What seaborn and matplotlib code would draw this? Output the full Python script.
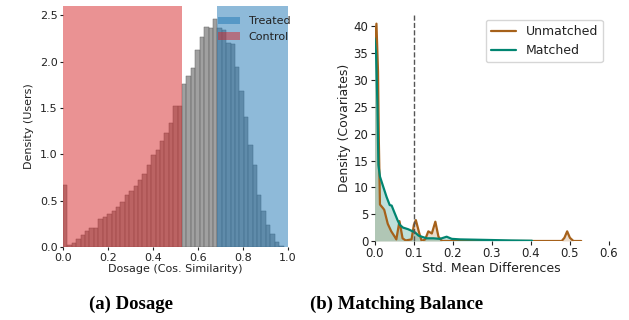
import numpy as np
import pandas as pd
import matplotlib
matplotlib.use("Agg")
import matplotlib.pyplot as plt
import seaborn as sns

# (a) dosage histogram: density per bin, 50 bins over [0, 0.98]
dosage_max = 0.98
dosage_density = [0.67, 0.025, 0.046, 0.09, 0.13, 0.17, 0.21, 0.205, 0.30, 0.32,
                  0.355, 0.39, 0.43, 0.485, 0.56, 0.60, 0.66, 0.72, 0.79, 0.89,
                  0.99, 1.045, 1.14, 1.23, 1.34, 1.52, 1.52, 1.756, 1.85, 1.93,
                  2.12, 2.27, 2.37, 2.36, 2.46, 2.36, 2.34, 2.20, 2.19, 1.94,
                  1.68, 1.40, 1.10, 0.88, 0.56, 0.39, 0.24, 0.14, 0.055, 0.015]
control_range = (0.0, 0.529)
treated_range = (0.686, 1.0)

# (b) matching balance curves
unmatched_x = [0.0, 0.005, 0.009, 0.011, 0.014, 0.022, 0.025, 0.034, 0.043, 0.051,
               0.056, 0.064, 0.072, 0.080, 0.095, 0.101, 0.106, 0.115, 0.121, 0.130,
               0.138, 0.147, 0.156, 0.164, 0.173, 0.480, 0.487, 0.494, 0.501, 0.510,
               0.530]
unmatched_y = [36.0, 40.5, 31.6, 19.2, 6.8, 6.1, 5.8, 3.2, 1.8, 0.9,
               0.3, 3.7, 0.5, 0.1, 0.3, 3.0, 3.9, 1.4, 0.0, 0.3,
               1.8, 1.4, 3.6, 0.8, 0.0, 0.0, 0.6, 1.8, 0.6, 0.0,
               0.0]
matched_x = [0.0, 0.004, 0.0075, 0.010, 0.014, 0.022, 0.031, 0.039, 0.044, 0.050,
             0.059, 0.065, 0.073, 0.086, 0.095, 0.104, 0.113, 0.121, 0.134, 0.151,
             0.168, 0.185, 0.198, 0.219, 0.287, 0.350, 0.404]
matched_y = [37.8, 35.0, 25.3, 14.2, 12.0, 10.2, 8.2, 6.7, 6.6, 5.5,
             3.9, 3.0, 2.5, 2.2, 1.9, 1.6, 1.0, 0.8, 0.5, 0.5,
             0.4, 0.8, 0.4, 0.3, 0.2, 0.1, 0.05]
threshold = 0.1

sns.set_style("ticks")
plt.rcParams["font.family"] = ["DejaVu Sans"]
plt.rcParams["text.color"] = "#222222"
plt.rcParams["axes.labelcolor"] = "#222222"

fig = plt.figure(figsize=(6.29, 3.20), dpi=100)

# ---- left panel
ax1 = fig.add_axes([63 / 629, 73 / 320, 225 / 629, 241 / 320])
edges = np.linspace(0, dosage_max, len(dosage_density) + 1)
hist_df = pd.DataFrame({"dosage": (edges[:-1] + edges[1:]) / 2,
                        "density": dosage_density})
sns.histplot(data=hist_df, x="dosage", weights="density", bins=list(edges),
             color="gray", alpha=0.75, edgecolor="#666666", linewidth=0.35, ax=ax1)
ax1.axvspan(*treated_range, color="tab:blue", alpha=0.5, lw=0, label="Treated")
ax1.axvspan(*control_range, color="tab:red", alpha=0.5, lw=0, label="Control")
ax1.set_xlim(0, 1)
ax1.set_ylim(0, 2.6)
ax1.set_xticks(np.arange(0, 1.01, 0.2))
ax1.set_yticks(np.arange(0, 2.51, 0.5))
ax1.set_xlabel("Dosage (Cos. Similarity)", fontsize=8, labelpad=1)
ax1.set_ylabel("Density (Users)", fontsize=8, labelpad=4)
ax1.tick_params(labelsize=8, length=2.5, width=0.8, pad=1.5, colors="#222222")
ax1.legend(loc="upper right", bbox_to_anchor=(1.03, 0.975), borderaxespad=0,
           fontsize=8, frameon=False)

# ---- right panel
ax2 = fig.add_axes([374.5 / 629, 79 / 320, 234 / 629, 227 / 320])
brown, teal = "#a6611a", "#018571"
sns.lineplot(x=unmatched_x, y=unmatched_y, color=brown, lw=1.6,
             label="Unmatched", ax=ax2)
sns.lineplot(x=matched_x, y=matched_y, color=teal, lw=1.6,
             label="Matched", ax=ax2)
ax2.fill_between(unmatched_x, unmatched_y, color=brown, alpha=0.22, lw=0)
ax2.fill_between(matched_x, matched_y, color=teal, alpha=0.25, lw=0)
ax2.axvline(threshold, color="#555555", ls="--", lw=1)
ax2.set_xlim(0, 0.6)
ax2.set_ylim(0, 42.3)
ax2.set_yticks(np.arange(0, 41, 5))
ax2.set_xlabel("Std. Mean Differences", fontsize=9, labelpad=1)
ax2.set_ylabel("Density (Covariates)", fontsize=9, labelpad=2)
ax2.tick_params(labelsize=8.5, length=3, width=0.8, pad=1.5, colors="#222222")
ax2.legend(loc="upper right", bbox_to_anchor=(0.976, 0.974), borderaxespad=0,
           fontsize=9, framealpha=0.8)

for ax in (ax1, ax2):
    for sp in ax.spines.values():
        sp.set_visible(False)

fig.text(131 / 629, 1 - 304 / 320, "(a) Dosage", ha="center", va="center",
         family="Liberation Serif", weight="bold", fontsize=13.5, color="black")
fig.text(397 / 629, 1 - 304 / 320, "(b) Matching Balance", ha="center", va="center",
         family="Liberation Serif", weight="bold", fontsize=13.5, color="black")

fig.savefig("out.png", dpi=100)
